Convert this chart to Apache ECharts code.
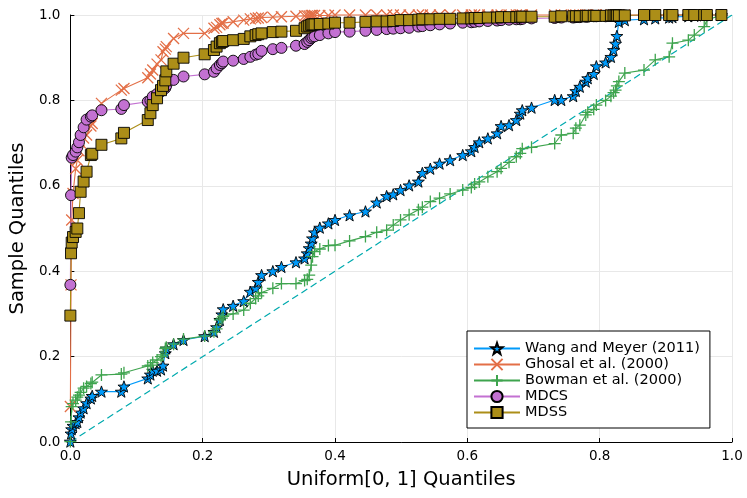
<!DOCTYPE html>
<html>
<head>
<meta charset="utf-8">
<script src="https://cdn.jsdelivr.net/npm/echarts@6/dist/echarts.min.js"></script>
<style>
  html, body { margin: 0; padding: 0; background: #fff; }
  #qq { width: 747px; height: 498px; }
</style>
</head>
<body>
<div id="qq"></div>
<script>
// uniform[0,1] quantiles (shared by every method)
var uq = [0.000, 0.001, 0.002, 0.004, 0.008, 0.0105, 0.013, 0.0155, 0.020, 0.0245,
          0.031, 0.033, 0.047, 0.077, 0.081, 0.117, 0.121, 0.1245, 0.131, 0.137,
          0.140, 0.1435, 0.145, 0.156, 0.171, 0.203, 0.217, 0.221, 0.226, 0.229,
          0.231, 0.246, 0.262, 0.272, 0.280, 0.284, 0.289, 0.306, 0.319, 0.341,
          0.354, 0.358, 0.361, 0.364, 0.366, 0.369, 0.377, 0.390, 0.400, 0.422,
          0.446, 0.463, 0.478, 0.488, 0.499, 0.512, 0.526, 0.532, 0.544, 0.558,
          0.574, 0.593, 0.606, 0.611, 0.618, 0.631, 0.645, 0.651, 0.663, 0.674,
          0.680, 0.683, 0.697, 0.732, 0.742, 0.760, 0.764, 0.770, 0.779, 0.782,
          0.791, 0.795, 0.809, 0.817, 0.821, 0.824, 0.826, 0.829, 0.838, 0.867,
          0.884, 0.905, 0.910, 0.934, 0.943, 0.958, 0.962, 0.984];

// sample quantiles per method
var wangMeyer = [0.001, 0.020, 0.030, 0.038, 0.044, 0.047, 0.058, 0.069, 0.079, 0.091,
                 0.102, 0.108, 0.118, 0.118, 0.130, 0.149, 0.158, 0.167, 0.167, 0.170,
                 0.179, 0.208, 0.219, 0.229, 0.239, 0.248, 0.258, 0.269, 0.286, 0.299,
                 0.311, 0.319, 0.330, 0.352, 0.360, 0.375, 0.391, 0.400, 0.410, 0.421,
                 0.430, 0.442, 0.454, 0.465, 0.477, 0.491, 0.502, 0.512, 0.520, 0.531,
                 0.540, 0.561, 0.576, 0.580, 0.590, 0.601, 0.610, 0.630, 0.640, 0.652,
                 0.660, 0.672, 0.681, 0.691, 0.702, 0.711, 0.723, 0.740, 0.742, 0.754,
                 0.769, 0.777, 0.783, 0.801, 0.801, 0.810, 0.822, 0.832, 0.844, 0.852,
                 0.862, 0.880, 0.889, 0.902, 0.918, 0.933, 0.951, 0.984, 0.988, 0.990,
                 0.992, 0.994, 0.995, 0.997, 0.998, 0.999, 1.000, 1.000];

var ghosal = [0.083, 0.368, 0.520, 0.582, 0.640, 0.660, 0.682, 0.700, 0.712, 0.719,
              0.740, 0.746, 0.793, 0.824, 0.828, 0.853, 0.862, 0.871, 0.885, 0.895,
              0.914, 0.920, 0.926, 0.945, 0.957, 0.957, 0.969, 0.971, 0.977, 0.980,
              0.981, 0.984, 0.988, 0.991, 0.992, 0.993, 0.994, 0.995, 0.996, 0.997,
              0.998, 0.998, 0.998, 0.999, 0.999, 0.999, 0.999, 0.999, 1.000, 1.000,
              1.000, 1.000, 1.000, 1.000, 1.000, 1.000, 1.000, 1.000, 1.000, 1.000,
              1.000, 1.000, 1.000, 1.000, 1.000, 1.000, 1.000, 1.000, 1.000, 1.000,
              1.000, 1.000, 1.000, 1.000, 1.000, 1.000, 1.000, 1.000, 1.000, 1.000,
              1.000, 1.000, 1.000, 1.000, 1.000, 1.000, 1.000, 1.000, 1.000, 1.000,
              1.000, 1.000, 1.000, 1.000, 1.000, 1.000, 1.000, 1.000];

var bowman = [0.001, 0.047, 0.083, 0.090, 0.098, 0.105, 0.110, 0.116, 0.126, 0.130,
              0.137, 0.140, 0.157, 0.159, 0.162, 0.178, 0.180, 0.186, 0.192, 0.200,
              0.204, 0.219, 0.222, 0.229, 0.241, 0.248, 0.258, 0.265, 0.286, 0.290,
              0.294, 0.300, 0.309, 0.325, 0.336, 0.342, 0.350, 0.360, 0.371, 0.371,
              0.378, 0.381, 0.391, 0.414, 0.434, 0.446, 0.452, 0.460, 0.461, 0.471,
              0.481, 0.491, 0.496, 0.508, 0.520, 0.532, 0.544, 0.550, 0.563, 0.571,
              0.581, 0.590, 0.596, 0.604, 0.609, 0.621, 0.633, 0.641, 0.655, 0.668,
              0.676, 0.687, 0.690, 0.699, 0.719, 0.723, 0.735, 0.742, 0.766, 0.772,
              0.779, 0.789, 0.800, 0.810, 0.818, 0.824, 0.834, 0.844, 0.864, 0.871,
              0.895, 0.902, 0.934, 0.941, 0.953, 0.973, 0.988, 1.000];

var mdcs = [0.368, 0.578, 0.666, 0.672, 0.680, 0.690, 0.702, 0.719, 0.737, 0.755,
            0.762, 0.765, 0.777, 0.780, 0.789, 0.797, 0.800, 0.809, 0.815, 0.821,
            0.825, 0.829, 0.835, 0.848, 0.856, 0.861, 0.867, 0.875, 0.883, 0.887,
            0.891, 0.893, 0.897, 0.902, 0.907, 0.909, 0.916, 0.920, 0.923, 0.928,
            0.932, 0.937, 0.941, 0.946, 0.949, 0.950, 0.953, 0.957, 0.960, 0.961,
            0.963, 0.965, 0.967, 0.968, 0.969, 0.970, 0.973, 0.974, 0.976, 0.978,
            0.980, 0.982, 0.983, 0.984, 0.985, 0.986, 0.987, 0.988, 0.989, 0.990,
            0.990, 0.991, 0.992, 0.993, 0.994, 0.994, 0.995, 0.995, 0.996, 0.996,
            0.997, 0.997, 0.997, 0.998, 0.998, 0.998, 0.998, 0.999, 0.999, 0.999,
            0.999, 1.000, 1.000, 1.000, 1.000, 1.000, 1.000, 1.000];

var mdss = [0.296, 0.442, 0.467, 0.480, 0.492, 0.500, 0.536, 0.586, 0.610, 0.633,
            0.672, 0.675, 0.696, 0.711, 0.724, 0.754, 0.770, 0.789, 0.805, 0.824,
            0.834, 0.847, 0.868, 0.886, 0.900, 0.908, 0.918, 0.926, 0.934, 0.937,
            0.939, 0.941, 0.944, 0.950, 0.953, 0.955, 0.957, 0.960, 0.961, 0.963,
            0.969, 0.973, 0.975, 0.977, 0.978, 0.978, 0.979, 0.980, 0.982, 0.982,
            0.984, 0.985, 0.985, 0.986, 0.988, 0.988, 0.989, 0.990, 0.990, 0.991,
            0.991, 0.992, 0.992, 0.993, 0.993, 0.994, 0.994, 0.995, 0.995, 0.995,
            0.996, 0.996, 0.996, 0.996, 0.997, 0.997, 0.997, 0.997, 0.998, 0.998,
            0.998, 0.998, 0.998, 0.999, 0.999, 0.999, 0.999, 0.999, 0.999, 1.000,
            1.000, 1.000, 1.000, 1.000, 1.000, 1.000, 1.000, 1.000];

var names = ['Wang and Meyer (2011)', 'Ghosal et al. (2000)', 'Bowman et al. (2000)', 'MDCS', 'MDSS'];
var refLine = [[0, 0], [1, 1]];

var starPath = 'path://M50,0L61.76,33.82L97.55,34.55L69.02,56.18L79.39,90.45L50,70L20.61,90.45L30.98,56.18L2.45,34.55L38.24,33.82Z';
var xPath = 'path://M0,0L10,10M10,0L0,10';
var plusPath = 'path://M5,0L5,10M0,5L10,5';

function pairs(ys) {
    var out = [];
    for (var i = 0; i < uq.length; i++) {
        out.push([uq[i], ys[i]]);
    }
    return out;
}

function mkSeries(name, ys, color, symbol, size, filled) {
    return {
        name: name,
        type: 'line',
        data: pairs(ys),
        clip: false,
        symbol: symbol,
        symbolSize: size,
        symbolKeepAspect: true,
        showAllSymbol: true,
        animation: false,
        lineStyle: { color: color, width: 1.1 },
        itemStyle: filled ?
            { color: color, borderColor: '#000', borderWidth: 0.9 } :
            { color: color, borderColor: color, borderWidth: 1.3 }
    };
}

var dom = document.getElementById('qq');
var myChart = echarts.init(dom, null, { renderer: 'canvas' });

var font = 'DejaVu Sans';

var axisCommon = {
    type: 'value',
    min: 0,
    max: 1,
    interval: 0.2,
    axisLine: { show: true, lineStyle: { color: '#000', width: 1 } },
    axisTick: { show: true, inside: true, length: 4, lineStyle: { color: '#000' } },
    splitLine: { show: true, lineStyle: { color: '#e8e8e8', width: 1 } },
    nameLocation: 'middle',
    nameTextStyle: { fontFamily: font, fontSize: 19.5, color: '#000' }
};

var option = {
    backgroundColor: '#fff',
    animation: false,
    grid: { left: 68, right: 15, top: 15, bottom: 56 },
    xAxis: Object.assign({}, axisCommon, {
        name: 'Uniform[0, 1] Quantiles',
        nameGap: 28,
        axisLabel: { fontFamily: font, fontSize: 13.5, color: '#000', margin: 7,
                     formatter: function (v) { return v.toFixed(1); } }
    }),
    yAxis: Object.assign({}, axisCommon, {
        name: 'Sample Quantiles',
        nameGap: 40,
        axisLabel: { fontFamily: font, fontSize: 13.5, color: '#000', margin: 10,
                     formatter: function (v) { return v.toFixed(1); } }
    }),
    legend: {
        data: names,
        orient: 'vertical',
        left: 467,
        top: 331,
        backgroundColor: '#fff',
        borderColor: '#000',
        borderWidth: 1,
        borderRadius: 0,
        padding: [10, 10, 8, 6],
        itemWidth: 46,
        itemHeight: 14,
        itemGap: 1,
        textStyle: { fontFamily: font, fontSize: 14.5, color: '#000' }
    },
    series: [
        mkSeries(names[0], wangMeyer, '#009AFA', starPath, 12, true),
        mkSeries(names[1], ghosal, '#E36F47', xPath, 11, false),
        mkSeries(names[2], bowman, '#3EA44E', plusPath, 12, false),
        mkSeries(names[3], mdcs, '#C371D2', 'circle', 11, true),
        mkSeries(names[4], mdss, '#AC8E18', 'rect', 11, true),
        {
            name: 'ref',
            type: 'line',
            data: refLine,
            symbol: 'none',
            silent: true,
            lineStyle: { color: '#00AAAE', width: 1.2, type: [7, 4] }
        }
    ]
};

if (option && typeof option === 'object') {
    myChart.setOption(option, true);
}
</script>
</body>
</html>
